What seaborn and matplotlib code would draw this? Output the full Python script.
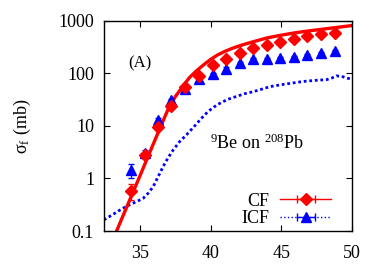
import numpy as np
import pandas as pd
import matplotlib
matplotlib.use('Agg')
import matplotlib.pyplot as plt
import seaborn as sns
from matplotlib.ticker import FixedLocator, FixedFormatter, NullLocator

# measured CF / ICF cross sections (mb)
e_data = [34.35, 35.35, 36.3, 37.2, 38.2, 39.2, 40.2, 41.1, 42.1, 43.0, 44.0, 44.9, 45.9, 46.8, 47.8, 48.8]
cf_data = [0.59, 2.8, 9.5, 23.5, 55, 90, 142, 188, 244, 300, 352, 398, 452, 507, 570, 589]
cf_err = [0.2, 0.4, 1.0, 2.0, 4, 6, 8, 10, 12, 15, 18, 20, 22, 25, 27, 30]
icf_data = [1.47, 3.05, 13.1, 30.6, 50.5, 78, 96, 123, 158, 188, 188, 196, 205, 227, 245, 262]
icf_err = [0.45, 0.4, 1.2, 2.0, 3, 5, 6, 7, 8, 9, 10, 10, 10, 11, 12, 13]

# calculated curves
e_cf_calc = [33.35, 33.5, 34.0, 34.5, 35.0, 35.5, 36.0, 36.5, 37.0, 37.5, 38.0, 38.5, 39.0, 39.5, 40.0,
             40.5, 41.0, 41.5, 42.0, 42.5, 43.0, 43.5, 44.0, 45.0, 46.0, 47.0, 48.0, 49.0, 50.0]
cf_calc = [0.1, 0.125, 0.26, 0.54, 1.12, 2.35, 4.9, 10.2, 21, 36, 55, 83, 112, 145, 185,
           225, 262, 298, 332, 366, 400, 435, 475, 535, 595, 648, 700, 755, 815]
e_icf_calc = [32.45, 33.0, 33.58, 34.0, 34.53, 35.0, 35.23, 35.6, 35.94, 36.3, 36.65, 37.0, 37.36, 37.8,
              38.3, 38.8, 39.25, 39.6, 39.95, 40.3, 40.66, 41.2, 41.84, 42.4, 43.02, 43.5, 44.2, 45.0,
              45.85, 46.5, 47.2, 47.8, 48.2, 48.6, 48.9, 49.2, 49.4, 49.7, 50.0]
icf_calc = [0.163, 0.2, 0.25, 0.29, 0.34, 0.39, 0.42, 0.53, 0.7, 1.1, 1.7, 2.5, 3.5, 5.0,
            6.8, 9.5, 13, 16.5, 20, 23.5, 27, 32, 36.5, 41, 45, 49, 56, 61,
            66, 70, 73, 75, 76, 82, 90, 88, 86, 81, 78]

plt.rcParams['font.family'] = ['Liberation Serif', 'DejaVu Serif']
plt.rcParams['mathtext.fontset'] = 'custom'
plt.rcParams['mathtext.rm'] = 'Liberation Serif'
plt.rcParams['mathtext.it'] = 'Liberation Serif:italic'

fig = plt.figure(figsize=(3.82, 2.68), dpi=100)
ax = fig.add_axes([0.272, 0.138, 0.649, 0.784])

sns.lineplot(x=e_icf_calc, y=icf_calc, ax=ax, color='blue', linestyle=(0, (1, 1)), linewidth=2.0)
sns.lineplot(x=e_cf_calc, y=cf_calc, ax=ax, color='red', linewidth=2.4)

ax.errorbar(e_data, icf_data, yerr=icf_err, fmt='^', color='blue', markersize=7.5, capsize=2, elinewidth=0.8)
ax.errorbar(e_data, cf_data, yerr=cf_err, fmt='D', color='red', markersize=6.3, capsize=2, elinewidth=0.8)

ax.set_yscale('log')
ax.set_xlim(32.45, 50)
ax.set_ylim(0.1, 1000)

yt = [0.1, 1, 10, 100, 1000]
ax.yaxis.set_major_locator(FixedLocator(yt))
ax.yaxis.set_major_formatter(FixedFormatter(['0.1', '1', '10', '100', '1000']))
ax.yaxis.set_minor_locator(NullLocator())
ax.set_xticks([35, 40, 45, 50])
ax.tick_params(direction='in', top=True, right=True, labelsize=13, length=4, width=0.8)
ax.tick_params(axis='x', pad=10)
ax.tick_params(axis='y', pad=7)
for s in ax.spines.values():
    s.set_linewidth(1.0)

ax.set_ylabel('σ$_{\\rm f}$ (mb)', fontsize=13, labelpad=18)

ax.text(0.1, 0.78, '(A)', transform=ax.transAxes, fontsize=12)
ax.text(0.426, 0.388, r'$^{9}$Be on $^{208}$Pb', transform=ax.transAxes, fontsize=13)

# legend proxies
h_cf = ax.errorbar([np.nan], [np.nan], xerr=[1], fmt='D-', color='red', markersize=6.3, capsize=3, linewidth=1, elinewidth=1)
h_icf = ax.errorbar([np.nan], [np.nan], xerr=[1], fmt='^:', color='blue', markersize=7.5, capsize=3, linewidth=1, elinewidth=1)
ax.legend([h_cf, h_icf], ['CF', 'ICF'], loc='lower right', bbox_to_anchor=(0.93, 0.0), frameon=False,
          markerfirst=False, fontsize=13, handlelength=2.8, labelspacing=0.05, borderaxespad=0.0,
          borderpad=0.2, handletextpad=0.6)

fig.savefig('out.png', dpi=100)
